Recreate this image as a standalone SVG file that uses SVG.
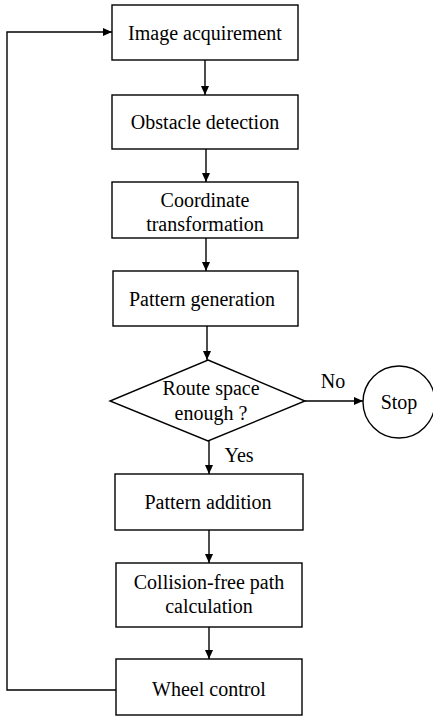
<svg xmlns="http://www.w3.org/2000/svg" width="433" height="720" viewBox="0 0 433 720">
<defs>
<marker id="ah" markerWidth="10" markerHeight="8" refX="9" refY="4" orient="auto" markerUnits="userSpaceOnUse">
<path d="M0,0 L9,4 L0,8 Z" fill="#000"/>
</marker>
<style>
.box{fill:#fff;stroke:#000;stroke-width:1.4}
.t{font-family:"Liberation Serif","Times New Roman",serif;font-size:20px;fill:#000;text-anchor:middle}
.c{fill:none;stroke:#000;stroke-width:1.4}
</style>
</defs>
<rect width="433" height="720" fill="#fff"/>
<g id="n1"><rect class="box" x="112" y="5" width="186" height="55"/><text class="t" x="205" y="40">Image acquirement</text></g>
<g id="n2"><rect class="box" x="112" y="95" width="186" height="54"/><text class="t" x="205" y="129">Obstacle detection</text></g>
<g id="n3"><rect class="box" x="112" y="182" width="186" height="56"/><text class="t" x="205" y="207">Coordinate</text><text class="t" x="205" y="231">transformation</text></g>
<g id="n4"><rect class="box" x="113" y="271" width="185" height="55"/><text class="t" x="202" y="306">Pattern generation</text></g>
<g id="n5"><polygon class="box" points="208,360 305,401 208,441 110,401"/><text class="t" x="211" y="395">Route space</text><text class="t" x="211" y="420">enough ?</text></g>
<g id="n6"><circle class="box" cx="399" cy="402" r="36"/><text class="t" x="399" y="409">Stop</text></g>
<g id="n7"><rect class="box" x="115" y="474" width="188" height="56"/><text class="t" x="208" y="509">Pattern addition</text></g>
<g id="n8"><rect class="box" x="116" y="563" width="186" height="64"/><text class="t" x="209" y="589">Collision-free path</text><text class="t" x="209" y="613">calculation</text></g>
<g id="n9"><rect class="box" x="116" y="659" width="186" height="56"/><text class="t" x="209" y="696">Wheel control</text></g>
<g id="connectors">
<line class="c" x1="205" y1="60" x2="205" y2="95" marker-end="url(#ah)"/>
<line class="c" x1="206" y1="149" x2="206" y2="182" marker-end="url(#ah)"/>
<line class="c" x1="206" y1="238" x2="206" y2="271" marker-end="url(#ah)"/>
<line class="c" x1="207" y1="326" x2="207" y2="360" marker-end="url(#ah)"/>
<line class="c" x1="305" y1="401" x2="363" y2="401" marker-end="url(#ah)"/>
<line class="c" x1="209" y1="441" x2="209" y2="474" marker-end="url(#ah)"/>
<line class="c" x1="209" y1="530" x2="209" y2="563" marker-end="url(#ah)"/>
<line class="c" x1="209" y1="627" x2="209" y2="659" marker-end="url(#ah)"/>
<polyline class="c" points="116,690 7,690 7,32 112,32" marker-end="url(#ah)"/>
<text class="t" x="333" y="388">No</text>
<text class="t" x="239" y="462">Yes</text>
</g>
</svg>
